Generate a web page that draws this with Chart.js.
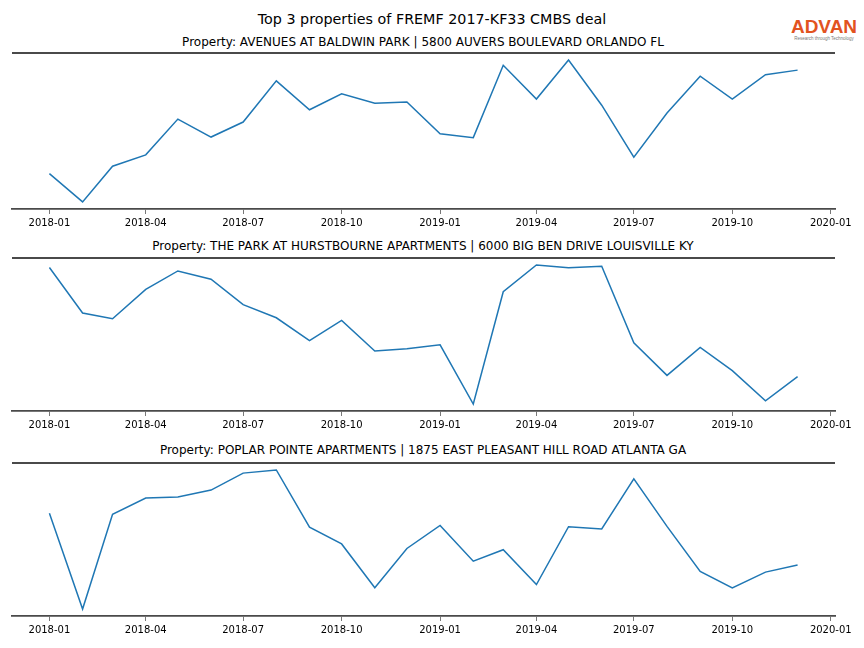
<!DOCTYPE html>
<html>
<head>
<meta charset="utf-8">
<script src="https://cdn.jsdelivr.net/npm/chart.js@4.4.1/dist/chart.umd.min.js"></script>
<style>
  body { margin: 0; background: #fff; font-family: "DejaVu Sans", sans-serif; }
  #page { position: relative; width: 864px; height: 648px; overflow: hidden; }
  .box { position: absolute; left: 0; width: 864px; }
  .txt { position: absolute; white-space: nowrap; transform: translate(-50%, -50%); color: #000; }
  #logo { position: absolute; left: 790px; top: 17px; width: 68px; text-align: center; }
  #logo .name { font-family: "Liberation Sans", sans-serif; font-weight: bold; font-size: 19px; color: #e2531f; line-height: 19px; }
  #logo .tag { font-family: "Liberation Sans", sans-serif; font-size: 4.5px; color: #777; line-height: 6px; }
</style>
</head>
<body>
<div id="page">
  <div class="txt" style="left:432px; top:19px; font-size:14.3px;">Top 3 properties of FREMF 2017-KF33 CMBS deal</div>
  <div id="logo"><div class="name">ADVAN</div><div class="tag">Research through Technology</div></div>

  <div class="txt" style="left:423px; top:42px; font-size:12px;">Property: AVENUES AT BALDWIN PARK | 5800 AUVERS BOULEVARD ORLANDO FL</div>
  <div class="box" style="top:49px; height:186px;"><canvas id="c1"></canvas></div>

  <div class="txt" style="left:423px; top:246px; font-size:12px;">Property: THE PARK AT HURSTBOURNE APARTMENTS | 6000 BIG BEN DRIVE LOUISVILLE KY</div>
  <div class="box" style="top:254px; height:183px;"><canvas id="c2"></canvas></div>

  <div class="txt" style="left:423px; top:450px; font-size:12px;">Property: POPLAR POINTE APARTMENTS | 1875 EAST PLEASANT HILL ROAD ATLANTA GA</div>
  <div class="box" style="top:459px; height:183px;"><canvas id="c3"></canvas></div>
</div>

<script>
// months on the x axis
const months = [
  "2018-01","2018-02","2018-03","2018-04","2018-05","2018-06",
  "2018-07","2018-08","2018-09","2018-10","2018-11","2018-12",
  "2019-01","2019-02","2019-03","2019-04","2019-05","2019-06",
  "2019-07","2019-08","2019-09","2019-10","2019-11","2019-12"
];
const tickLabels = ["2018-01","2018-04","2018-07","2018-10","2019-01","2019-04","2019-07","2019-10","2020-01"];

// relative activity per property (no y scale shown in the picture)
const avenuesBaldwin = [337,47,413,530,897,713,867,1290,993,1157,1060,1073,747,707,1450,1103,1503,1040,507,960,1337,1103,1353,1400];
const parkHurstbourne = [1457,980,920,1227,1420,1333,1067,930,690,903,583,607,647,27,1203,1483,1453,1470,667,327,620,377,60,313];
const poplarPointe = [1037,37,1027,1197,1207,1280,1457,1490,893,717,260,670,910,537,657,293,897,873,1397,900,430,257,423,497];

const SPINE = "#4a4a4a";

function toDay(s) {
  const [y, m] = s.split("-").map(Number);
  return Date.UTC(y, m - 1, 1) / 86400000;
}
function fromDay(d) {
  const dt = new Date(Math.round(d) * 86400000);
  return dt.getUTCFullYear() + "-" + String(dt.getUTCMonth() + 1).padStart(2, "0");
}

const xs = months.map(toDay);
const tickDays = tickLabels.map(toDay);
const xSpan = xs[xs.length - 1] - xs[0];

// top spine, like the matplotlib frame
const topSpine = {
  id: "topSpine",
  afterDraw(chart) {
    const { ctx, chartArea } = chart;
    ctx.save();
    ctx.strokeStyle = SPINE;
    ctx.lineWidth = 1.8;
    ctx.beginPath();
    ctx.moveTo(chartArea.left, chartArea.top);
    ctx.lineTo(chartArea.right, chartArea.top);
    ctx.stroke();
    ctx.restore();
  }
};

function drawPanel(id, values) {
  const ctx = document.getElementById(id).getContext("2d");
  const lo = Math.min(...values), hi = Math.max(...values);
  const pad = (hi - lo) * 0.05;

  new Chart(ctx, {
    type: "line",
    data: {
      datasets: [{
        data: values.map((v, i) => ({ x: xs[i], y: v })),
        borderColor: "#1f77b4",
        borderWidth: 1.5,
        pointRadius: 0,
        tension: 0,
        fill: false
      }]
    },
    options: {
      responsive: true,
      maintainAspectRatio: false,
      animation: false,
      layout: { padding: { top: 4, left: 12, right: 29, bottom: 0 } },
      plugins: { legend: { display: false }, tooltip: { enabled: false } },
      scales: {
        x: {
          type: "linear",
          min: xs[0] - xSpan * 0.05,
          max: xs[xs.length - 1] + xSpan * 0.05,
          afterBuildTicks: axis => { axis.ticks = tickDays.map(v => ({ value: v })); },
          afterFit: axis => { axis.height = 26; },
          border: { display: true, color: SPINE, width: 1.8 },
          grid: { display: true, drawOnChartArea: false, drawTicks: true, tickLength: 5, tickColor: "#555", tickWidth: 0.8 },
          ticks: {
            callback: v => fromDay(v),
            color: "#000",
            font: { family: "DejaVu Sans", size: 10 },
            padding: 3,
            maxRotation: 0,
            autoSkip: false
          }
        },
        y: {
          display: false,
          min: lo - pad,
          max: hi + pad
        }
      }
    },
    plugins: [topSpine]
  });
}

drawPanel("c1", avenuesBaldwin);
drawPanel("c2", parkHurstbourne);
drawPanel("c3", poplarPointe);
</script>
</body>
</html>
